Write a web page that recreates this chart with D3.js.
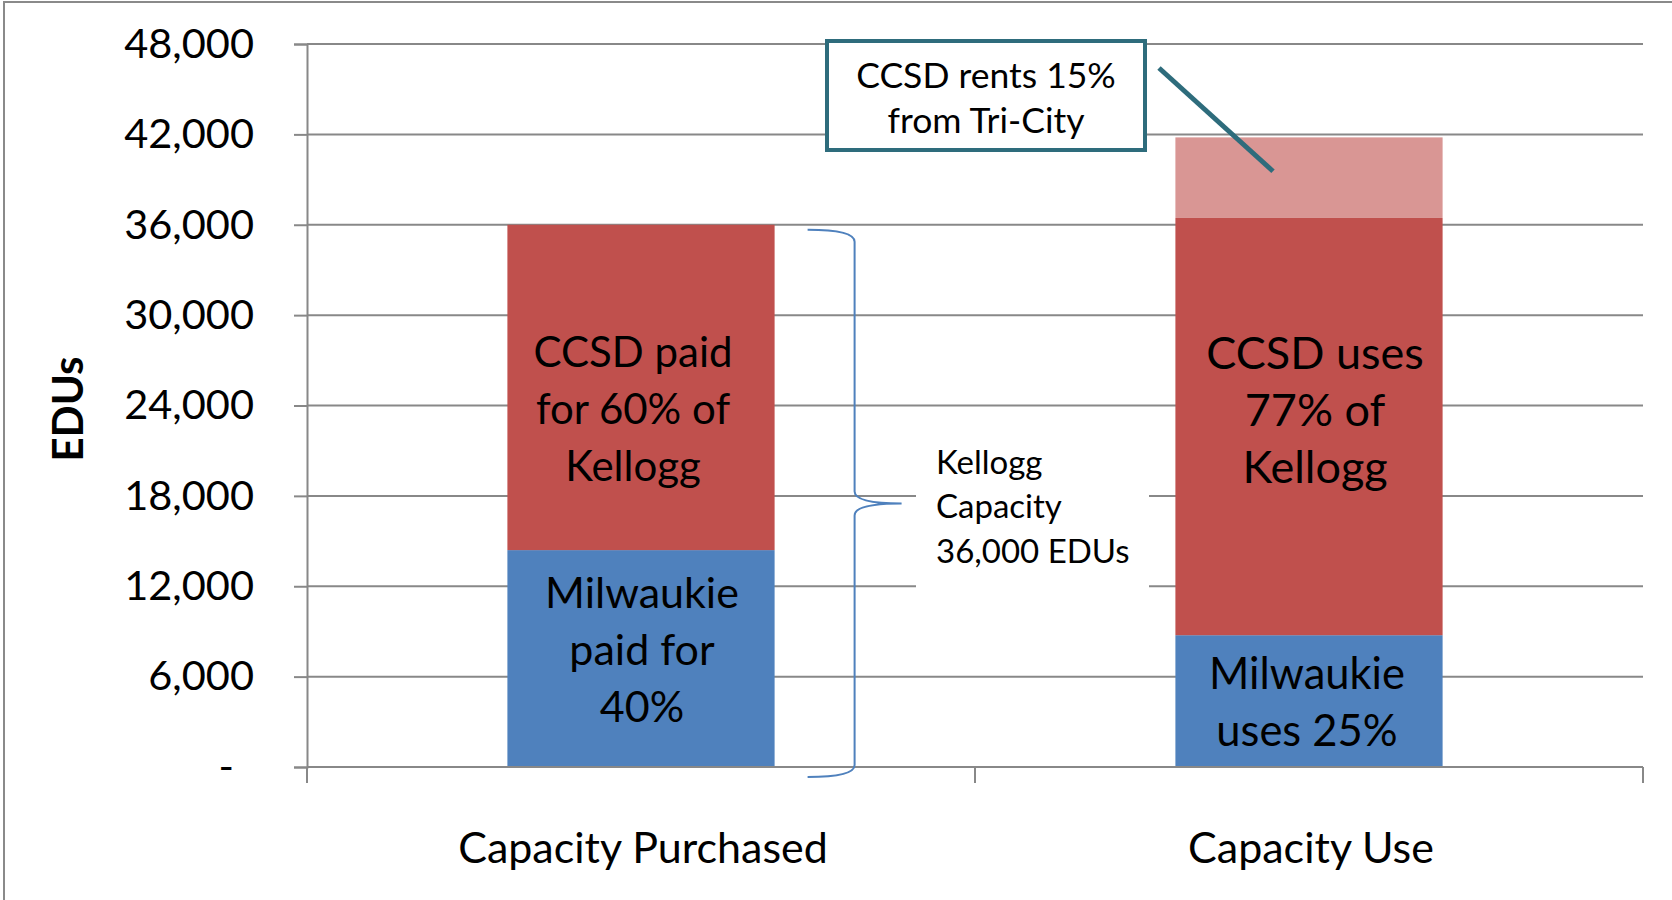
<!DOCTYPE html>
<html>
<head>
<meta charset="utf-8">
<script src="https://cdn.jsdelivr.net/npm/d3@7"></script>
<style>
  html, body { margin: 0; padding: 0; background: #fff; }
  svg { display: block; }
  text { font-family: Lato, "Open Sans", sans-serif; fill: #000; }
</style>
</head>
<body>
<div id="chart"></div>
<script>
// chart values
const categories = ["Capacity Purchased", "Capacity Use"];
const milwaukie = [14400, 8750];
const ccsd = [21600, 27700];
const rented = [0, 5350];
const yTicks = [0, 6000, 12000, 18000, 24000, 30000, 36000, 42000, 48000];

const milwaukieLabels = [["Milwaukie", "paid for", "40%"], ["Milwaukie", "uses 25%"]];
const ccsdLabels = [["CCSD paid", "for 60% of", "Kellogg"], ["CCSD uses", "77% of", "Kellogg"]];
const calloutLines = ["CCSD rents 15%", "from Tri-City"];
const braceLines = ["Kellogg", "Capacity", "36,000 EDUs"];
const kelloggCapacity = 36000;

const width = 1672, height = 900;
const svg = d3.select("#chart").append("svg")
    .attr("width", width)
    .attr("height", height);

// outer chart frame (bottom/right run off the picture)
svg.append("rect")
    .attr("x", 4).attr("y", 2)
    .attr("width", 1800).attr("height", 1000)
    .attr("fill", "none").attr("stroke", "#8a8a8a").attr("stroke-width", 2);

const plot = { left: 307, right: 1643, top: 44, bottom: 767 };

const x = d3.scaleBand().domain(categories).range([plot.left, plot.right]);
const y = d3.scaleLinear().domain([0, 48000]).range([plot.bottom, plot.top]);
const barW = x.bandwidth() * 0.4;

// gridlines
svg.append("g").selectAll("line").data(yTicks.filter(d => d > 0)).enter()
   .append("line")
   .attr("x1", plot.left).attr("x2", plot.right)
   .attr("y1", d => y(d)).attr("y2", d => y(d))
   .attr("stroke", "#888").attr("stroke-width", 2);

// stacked bars
const rows = categories.map((c, i) => ({ cat: c, milwaukie: milwaukie[i], ccsd: ccsd[i], rented: rented[i] }));
const stack = d3.stack().keys(["milwaukie", "ccsd", "rented"])(rows);
const colors = { milwaukie: "#4f81bd", ccsd: "#c0504d", rented: "#d99694" };

svg.append("g").selectAll("g").data(stack).enter()
   .append("g").attr("fill", s => colors[s.key])
   .selectAll("rect").data(s => s).enter()
   .append("rect")
   .attr("x", d => x(d.data.cat) + (x.bandwidth() - barW) / 2)
   .attr("width", barW)
   .attr("y", d => y(d[1]))
   .attr("height", d => y(d[0]) - y(d[1]));

// y axis
const yAxis = d3.axisLeft(y).tickValues(yTicks).tickSize(13).tickPadding(40)
    .tickFormat(d => d === 0 ? "-" : d3.format(",")(d));
const yg = svg.append("g").attr("transform", `translate(${plot.left},0)`).call(yAxis);
yg.select(".domain").attr("stroke", "#888").attr("stroke-width", 2);
yg.selectAll(".tick line").attr("stroke", "#888").attr("stroke-width", 2);
yg.selectAll(".tick text")
  .style("font-family", "Lato, sans-serif")
  .attr("font-size", 41.5).attr("fill", "#000")
  .attr("dx", d => d === 0 ? -20 : 0);

// x axis line and category ticks
svg.append("line")
   .attr("x1", plot.left).attr("x2", plot.right)
   .attr("y1", y(0)).attr("y2", y(0))
   .attr("stroke", "#888").attr("stroke-width", 2);
const bounds = [plot.left].concat(categories.map(c => x(c) + x.bandwidth()));
svg.append("g").selectAll("line").data(bounds).enter()
   .append("line")
   .attr("x1", d => d).attr("x2", d => d)
   .attr("y1", y(0)).attr("y2", y(0) + 16)
   .attr("stroke", "#888").attr("stroke-width", 2);

svg.append("g").selectAll("text").data(categories).enter()
   .append("text")
   .attr("x", d => x(d) + x.bandwidth() / 2 + 2)
   .attr("y", 863)
   .attr("text-anchor", "middle")
   .attr("font-size", 43)
   .text(d => d);

// axis title
svg.append("text")
   .attr("transform", "translate(83,409) rotate(-90)")
   .attr("text-anchor", "middle")
   .attr("font-size", 42).attr("font-weight", "bold")
   .text("EDUs");

// segment labels
function segLabels(lines, yMid, dxs, sizes) {
  const lh = 57;
  lines.forEach((ls, i) => {
    const cx = x(categories[i]) + x.bandwidth() / 2 + dxs[i];
    const y0 = yMid[i] - (ls.length - 1) * lh / 2;
    svg.append("text")
       .attr("text-anchor", "middle")
       .attr("font-size", sizes[i])
       .selectAll("tspan").data(ls).enter()
       .append("tspan")
       .attr("x", cx)
       .attr("y", (d, j) => y0 + j * lh)
       .attr("dy", "0.36em")
       .text(d => d);
  });
}
segLabels(ccsdLabels, [409, 410], [-8, 6], [42, 45]);
segLabels(milwaukieLabels, [650, 702], [1, -2], [43, 43.5]);

// brace around Kellogg capacity
const bx0 = x(categories[0]) + (x.bandwidth() + barW) / 2 + 33;
const bx1 = bx0 + 47, tip = bx1 + 47;
const bTop = y(kelloggCapacity) + 5, bBot = y(0) + 10, bMid = (bTop + bBot) / 2;
const brace = d3.path();
brace.moveTo(bx0, bTop);
brace.quadraticCurveTo(bx1, bTop, bx1, bTop + 12);
brace.lineTo(bx1, bMid - 12);
brace.quadraticCurveTo(bx1, bMid, tip, bMid);
brace.quadraticCurveTo(bx1, bMid, bx1, bMid + 12);
brace.lineTo(bx1, bBot - 12);
brace.quadraticCurveTo(bx1, bBot, bx0, bBot);
svg.append("path").attr("d", brace.toString())
   .attr("fill", "none").attr("stroke", "#4f81bd").attr("stroke-width", 2);

svg.append("rect")
   .attr("x", 916).attr("y", 428).attr("width", 233).attr("height", 160)
   .attr("fill", "#fff");
svg.append("text")
   .attr("font-size", 33)
   .selectAll("tspan").data(braceLines).enter()
   .append("tspan")
   .attr("x", 936)
   .attr("y", (d, i) => 462 + i * 44.5)
   .attr("dy", "0.36em")
   .text(d => d);

// callout for the rented part
svg.append("line")
   .attr("x1", 1159).attr("y1", 68)
   .attr("x2", x(categories[1]) + x.bandwidth() / 2 - 36)
   .attr("y2", y(milwaukie[1] + ccsd[1] + rented[1] * 0.58))
   .attr("stroke", "#2e6c7c").attr("stroke-width", 5);
svg.append("rect")
   .attr("x", 827).attr("y", 41).attr("width", 318).attr("height", 109)
   .attr("fill", "#fff").attr("stroke", "#2e6c7c").attr("stroke-width", 4);
svg.append("text")
   .attr("text-anchor", "middle")
   .attr("font-size", 35.5)
   .selectAll("tspan").data(calloutLines).enter()
   .append("tspan")
   .attr("x", 986)
   .attr("y", (d, i) => 75 + i * 45)
   .attr("dy", "0.36em")
   .text(d => d);
</script>
</body>
</html>
